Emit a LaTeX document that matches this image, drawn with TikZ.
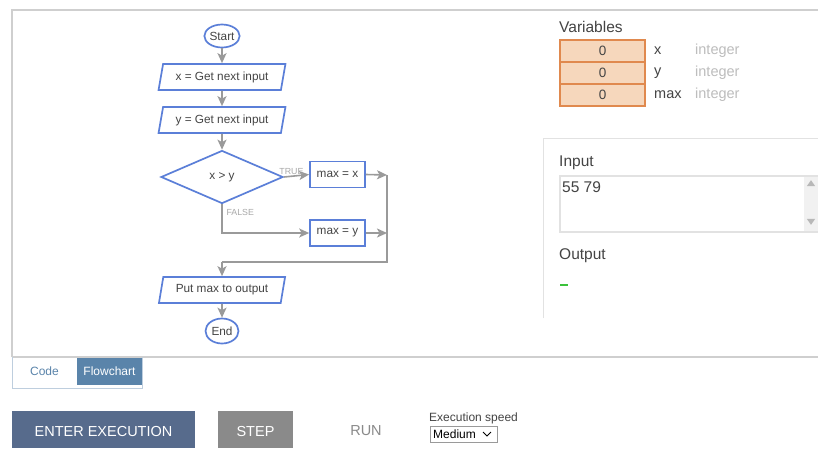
\documentclass[tikz,border=0pt]{standalone}
\usepackage{fontspec}
\setmainfont{Liberation Sans}
\usetikzlibrary{shapes.geometric,arrows.meta}
\definecolor{fcblue}{HTML}{5B7FD8}
\definecolor{fcgrey}{HTML}{9A9A9A}
\definecolor{varfill}{HTML}{F6D7BC}
\definecolor{varline}{HTML}{E0894E}
\definecolor{frameg}{HTML}{CFCFCF}
\definecolor{panelg}{HTML}{E2E2E2}
\definecolor{tabblue}{HTML}{5A84AA}
\definecolor{tabline}{HTML}{BECEDE}
\definecolor{scrollg}{HTML}{F1F1F1}
\definecolor{btnblue}{HTML}{576B8C}
\definecolor{btngrey}{HTML}{8A8A8A}
\definecolor{txtgrey}{HTML}{444444}
\definecolor{typegrey}{HTML}{BDBDBD}
\definecolor{outgreen}{HTML}{3CC23C}
\begin{document}
\begin{tikzpicture}[x=1pt,y=-1pt,
  every node/.style={font=\fontsize{11.8}{13}\selectfont, text=txtgrey},
  term/.style={ellipse, draw=fcblue, line width=1.7pt, inner sep=0pt, minimum width=35pt, minimum height=23pt},
  io/.style={trapezium, trapezium left angle=72, trapezium right angle=108, trapezium stretches=true, draw=fcblue, line width=1.7pt, minimum width=127pt, minimum height=26pt, inner sep=0pt},
  proc/.style={rectangle, draw=fcblue, line width=1.7pt, minimum width=55pt, minimum height=26pt, inner sep=0pt},
  dec/.style={diamond, draw=fcblue, line width=1.7pt, minimum width=122pt, minimum height=53pt, inner sep=0pt, aspect=2.3},
  flow/.style={draw=fcgrey, line width=1.6pt, -{Stealth[length=10pt,width=9pt,inset=2.5pt]}},
  line/.style={draw=fcgrey, line width=1.6pt},
  small/.style={font=\fontsize{8.8}{10}\selectfont, text=fcgrey!85},
  varbox/.style={rectangle, draw=varline, fill=varfill, line width=1.3pt, minimum width=85pt, minimum height=22pt, inner sep=0pt, font=\fontsize{13.5}{15}\selectfont, text=txtgrey},
  lbl/.style={font=\fontsize{14.5}{16}\selectfont, text=txtgrey, inner sep=0pt, anchor=west},
  typ/.style={font=\fontsize{14.5}{16}\selectfont, text=typegrey, inner sep=0pt, anchor=west}
]
\useasboundingbox (0,0) rectangle (818,448);
\fill[white] (0,0) rectangle (818,448);
% outer frame
\draw[frameg, line width=1.5pt] (12,357) -- (12,10) -- (818,10);
\draw[frameg, line width=1.5pt] (12,357) -- (818,357);
% right panel frame
\draw[panelg, line width=1pt] (543,318) -- (543,138) -- (818,138);

% flowchart
\node[term] (start) at (222,36) {Start};
\node[io] (in1) at (222,77) {x = Get next input};
\node[io] (in2) at (222,120) {y = Get next input};
\node[dec] (cond) at (222,177) {x > y};
\node[proc] (mx) at (337.5,174.5) {max = x};
\node[proc] (my) at (337.5,233) {max = y};
\node[io] (out) at (222,290) {Put max to output};
\node[term, minimum width=33pt, minimum height=25pt] (stop) at (222,331) {End};
\coordinate (ma) at (387,175);
\coordinate (mb) at (387,233);
\coordinate (mc) at (387,262);
\coordinate (md) at (222,262);
\coordinate (fc) at (222,233);

\draw[flow] (start) -- (in1);
\draw[flow] (in1) -- (in2);
\draw[flow] (in2) -- (cond);
\draw[flow] (cond.east) -- node[small, pos=0.3, above, inner sep=0.5pt] {TRUE} (mx.west);
\draw[flow] (cond.south) -- (fc) -- (my.west);
\node[small, anchor=west] (flbl) at (223,212) {FALSE};
\draw[flow] (mx.east) -- (ma);
\draw[flow] (my.east) -- (mb);
\draw[line] (ma) -- (mc) -- (md);
\draw[flow] (md) -- (out.north);
\draw[flow] (out) -- (stop);

% variables
\node[lbl, font=\fontsize{15.5}{17}\selectfont] (vars) at (559,27) {Variables};
\node[varbox] (vx) at (602.5,51) {0};
\node[varbox] (vy) at (602.5,73) {0};
\node[varbox] (vm) at (602.5,95) {0};
\node[lbl] (nx) at (654,51) {x};
\node[lbl] (ny) at (654,73) {y};
\node[lbl] (nm) at (654,95) {max};
\node[typ] (tx) at (695,51) {integer};
\node[typ] (ty) at (695,73) {integer};
\node[typ] (tm) at (695,95) {integer};

% input/output
\node[lbl, font=\fontsize{15.5}{17}\selectfont] (inlbl) at (559,163) {Input};
\fill[scrollg] (804,177) rectangle (818,231);
\draw[panelg, line width=1.5pt] (818,176) -- (560,176) -- (560,232) -- (818,232);
\node[fill=fcgrey!70, isosceles triangle, isosceles triangle apex angle=70, shape border rotate=90, inner sep=0pt, minimum size=6pt] (up) at (811,184) {};
\node[fill=fcgrey!70, isosceles triangle, isosceles triangle apex angle=70, shape border rotate=-90, inner sep=0pt, minimum size=6pt] (dn) at (811,221) {};
\node[lbl, font=\fontsize{15.5}{17}\selectfont] (inval) at (562,187) {55 79};
\node[lbl, font=\fontsize{15.5}{17}\selectfont] (outlbl) at (559,256) {Output};
\draw[outgreen, line width=1.2pt] (560,285) -- (568,285);

% tabs
\draw[tabline, line width=1pt] (12,357) -- (12,388) -- (142,388) -- (142,357);
\fill[tabblue] (77,357.8) rectangle (142,386);
\draw[white, line width=0.8pt] (77,385) -- (142,385);
\node[font=\fontsize{12}{14}\selectfont, text=tabblue] (code) at (44.5,371) {Code};
\node[font=\fontsize{12}{14}\selectfont, text=white] (flowtab) at (109.5,371) {Flowchart};

% buttons
\fill[btnblue] (12,411) rectangle (195,448);
\node[font=\fontsize{14.5}{17}\selectfont, text=white] (enter) at (103.5,431) {ENTER EXECUTION};
\fill[btngrey] (218,411) rectangle (293,448);
\node[font=\fontsize{14.5}{17}\selectfont, text=white] (stepbtn) at (255.5,431) {STEP};
\node[font=\fontsize{14.5}{17}\selectfont, text=btngrey] (run) at (366,431) {RUN};
\node[font=\fontsize{12}{14}\selectfont, text=txtgrey, anchor=west, inner sep=0pt] (speed) at (429,418) {Execution speed};
\draw[fcgrey, line width=0.8pt] (430,426) rectangle (497,442);
\node[font=\fontsize{12}{14}\selectfont, text=black, anchor=west, inner sep=0pt] (med) at (433,434.5) {Medium};
\draw[black, line width=1pt] (483,432) -- (487,436) -- (491,432);
\end{tikzpicture}
\end{document}
